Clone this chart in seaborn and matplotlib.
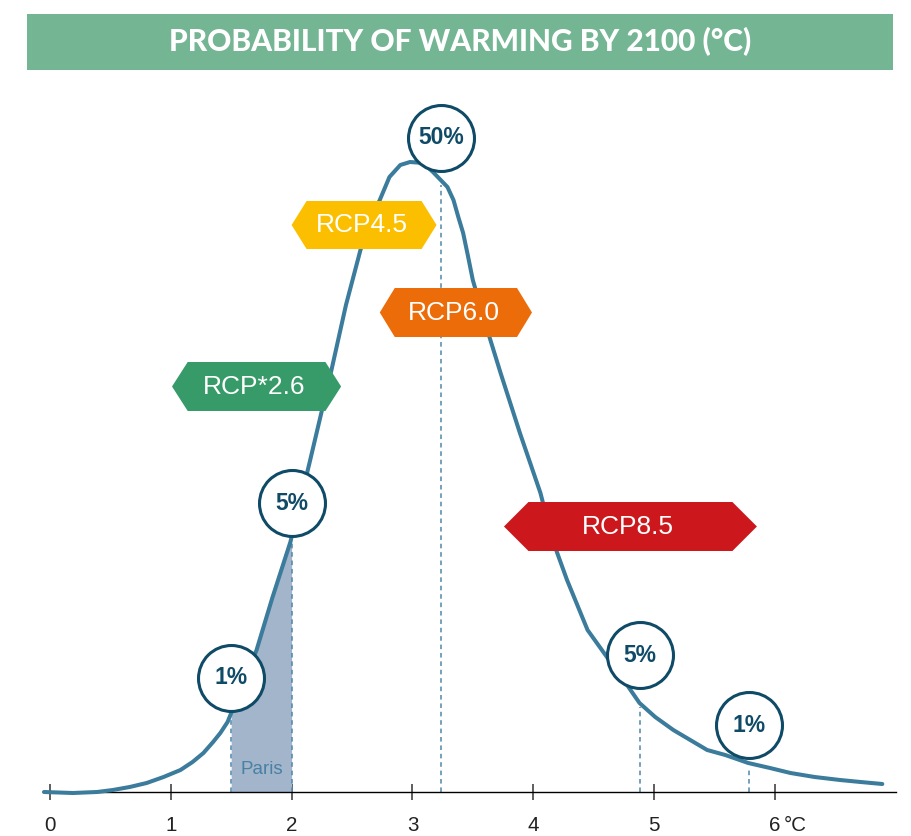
import numpy as np
import pandas as pd
import seaborn as sns
import matplotlib.pyplot as plt
from matplotlib.patches import Polygon, Rectangle

# probability curve (warming in degC, relative density)
warming = [-0.05, 0.19, 0.39, 0.52, 0.66, 0.80, 0.94, 1.08, 1.18, 1.27, 1.35,
           1.41, 1.47, 1.51, 1.71, 1.84, 1.99, 2.15, 2.33, 2.45, 2.57, 2.65,
           2.73, 2.81, 2.90, 2.98, 3.09, 3.17, 3.29, 3.34, 3.38, 3.42, 3.46,
           3.50, 3.56, 3.62, 3.73, 3.89, 4.06, 4.16, 4.28, 4.45, 4.61, 4.72,
           4.88, 5.01, 5.16, 5.30, 5.44, 5.59, 5.78, 5.96, 6.13, 6.33, 6.54,
           6.71, 6.89]
density = [0.000, -0.001, 0.000, 0.002, 0.005, 0.009, 0.015, 0.022, 0.030, 0.039, 0.050,
           0.059, 0.070, 0.082, 0.142, 0.194, 0.250, 0.330, 0.422, 0.487, 0.542, 0.572,
           0.592, 0.615, 0.627, 0.630, 0.629, 0.620, 0.605, 0.592, 0.575, 0.559, 0.536,
           0.512, 0.487, 0.462, 0.419, 0.359, 0.299, 0.252, 0.212, 0.162, 0.135, 0.117,
           0.089, 0.075, 0.062, 0.052, 0.042, 0.037, 0.029, 0.024, 0.019, 0.015, 0.012,
           0.010, 0.008]

# percentile markers
pct_x = [1.50, 2.00, 3.24, 4.88, 5.79]
pct_labels = ["1%", "5%", "50%", "5%", "1%"]

# paris range
paris_range = [1.5, 2.0]

# scenario tags
rcp_names = ["RCP*2.6", "RCP4.5", "RCP6.0", "RCP8.5"]
rcp_colors = ["#379b69", "#fbbf00", "#ec6c0a", "#cc181d"]

x_ticks = [0, 1, 2, 3, 4, 5, 6]
x_ticklabels = ["0", "1", "2", "3", "4", "5", "6"]

title = "PROBABILITY OF WARMING BY 2100 (°C)"

# layout (data units): tag centre x, centre y, half width, tip, half height
rcp_layout = [(1.71, 0.4055, 0.70, 0.13, 0.0245),
              (2.60, 0.567, 0.60, 0.124, 0.024),
              (3.36, 0.4795, 0.63, 0.124, 0.0245),
              (4.805, 0.2655, 1.047, 0.203, 0.0245)]
circle_lift = [0.035, 0.034, 0.043, 0.048, 0.038]

curve_col = "#3b7b9b"
dark = "#0f4a66"
dash_col = "#4e87a9"

sns.set_theme(style="white")
plt.rcParams['font.family'] = ['Liberation Sans', 'DejaVu Sans']

fig = plt.figure(figsize=(9.11, 8.36), dpi=100)
ax = fig.add_axes([0, 0, 1, 1])
ax.set_facecolor('none')
ax.set_xlim(-50 / 120.8, (911 - 50) / 120.8)
ax.set_ylim(-0.044, 0.792)

df = pd.DataFrame({'warming': warming, 'density': density})
w = np.array(warming)
d = np.array(density)

# paris shading
inside = (w > paris_range[0]) & (w < paris_range[1])
fx = np.concatenate([[paris_range[0]], w[inside], [paris_range[1]]])
fy = np.interp(fx, w, d)
ax.fill_between(fx, 0, fy, color="#a2b5cb", lw=0, zorder=1)
ax.text(np.mean(paris_range), 0.022, "Paris", ha='center', va='center',
        fontsize=13.5, color="#4a80a3", zorder=2)

sns.lineplot(data=df, x='warming', y='density', sort=False, color=curve_col,
             lw=2.9, ax=ax, zorder=3)

# dashed percentile lines
pct_h = np.interp(pct_x, w, d)
for xp, hp in zip(pct_x, pct_h):
    ax.plot([xp, xp], [0, hp - 0.004], color=dash_col, lw=1.1,
            ls=(0, (3, 2.5)), zorder=2.5)

# scenario tags
for name, col, (cx, cy, hw, tip, hh) in zip(rcp_names, rcp_colors, rcp_layout):
    pts = [(cx - hw, cy), (cx - hw + tip, cy + hh), (cx + hw - tip, cy + hh),
           (cx + hw, cy), (cx + hw - tip, cy - hh), (cx - hw + tip, cy - hh)]
    ax.add_patch(Polygon(pts, closed=True, color=col, lw=0, zorder=4))
    ax.text(cx - 0.02, cy, name, ha='center', va='center', fontsize=19,
            color='white', zorder=4.5)

# percentile circles
cy_circ = pct_h + np.array(circle_lift)
sns.scatterplot(x=pct_x, y=cy_circ, s=47.5 ** 2, color='white', edgecolor=dark,
                linewidth=2.2, ax=ax, zorder=5, legend=False)
for xp, yp, lab in zip(pct_x, cy_circ, pct_labels):
    ax.text(xp, yp, lab, ha='center', va='center', fontsize=16.5,
            fontweight='bold', color=dark, zorder=6)

# axis
for s in ['top', 'left', 'right']:
    ax.spines[s].set_visible(False)
ax.spines['bottom'].set_position(('data', 0))
ax.spines['bottom'].set_bounds(-0.05, 7.0)
ax.spines['bottom'].set_color('black')
ax.spines['bottom'].set_linewidth(1.0)
ax.set_yticks([])
ax.set_xticks(x_ticks)
ax.set_xticklabels(x_ticklabels)
ax.tick_params(axis='x', direction='inout', length=11, width=1.1, color='#333333',
               pad=11.5, labelsize=14.8, labelcolor='#222222', bottom=True)
ax.set_xlabel('')
ax.set_ylabel('')
ax.annotate("°C", xy=(6, 0), xytext=(6.5, -(11.5 + 5.5)), textcoords='offset points',
            ha='left', va='top', fontsize=14.8, color='#222222')

# title banner
fig.add_artist(Rectangle((27 / 911, 1 - 70 / 836), 866 / 911, 56 / 836,
                         transform=fig.transFigure, color="#74b594", lw=0))
fig.text(460 / 911, 1 - 42 / 836, title, ha='center', va='center', color='white',
         fontsize=21.5, fontweight='black', family=['Lato', 'DejaVu Sans'])

fig.savefig('out.png', dpi=100)
